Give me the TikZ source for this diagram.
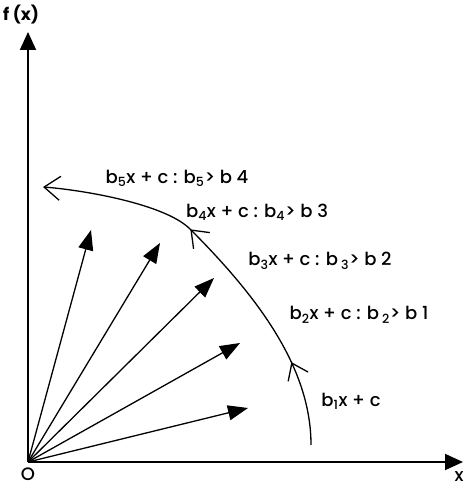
\documentclass[tikz,border=0pt]{standalone}
\usepackage{fontspec}
\setmainfont{Poppins}
\newfontfamily\labfont{Poppins Medium}
\usetikzlibrary{arrows.meta,decorations.markings}
\begin{document}
\begin{tikzpicture}[x=1pt,y=1pt,
  axis/.style={line width=1.9pt,-{Triangle[length=18pt,width=16pt]}},
  vec/.style={line width=1.3pt,-{Triangle[length=20pt,width=15pt]}},
  curve/.style={line width=1.3pt,-{Straight Barb[length=16pt,width=24pt]},
    postaction={decorate},
    decoration={markings,
      mark=at position 0.21 with {\arrow{Straight Barb[length=15pt,width=22pt]}},
      mark=at position 0.62 with {\arrow{Straight Barb[length=15pt,width=23pt]}}}},
  lab/.style={font=\labfont\fontsize{18}{21}\selectfont, inner sep=0pt}]
\useasboundingbox (0,0) rectangle (463,489);
\coordinate (o) at (28,27);
\coordinate (ytip) at (28,457);
\coordinate (xtip) at (463,27);
\coordinate (t1) at (248,81);
\coordinate (t2) at (240,146);
\coordinate (t3) at (214,211);
\coordinate (t4) at (160,246);
\coordinate (t5) at (91,259);
\coordinate (cs) at (311,44);
\coordinate (cm) at (190,260);
\coordinate (ce) at (43,302);
% axes
\draw[axis] (o) -- (ytip);
\draw[axis] (o) -- (xtip);
% vectors
\foreach \t in {t1,t2,t3,t4,t5} \draw[vec] (o) -- (\t);
% arc
\draw[curve] (cs) .. controls (311,120) and (260,190) .. (cm)
                  .. controls (165,285) and (83,299) .. (ce);
% labels
\node[lab,font=\bfseries\fontsize{17}{20}\selectfont] (fx) at (21,474) {f (x)};
\node[lab] (olab) at (28,15) {O};
\node[lab] (xlab) at (459,12) {x};
\node[lab] (l5) at (177,311) {b\textsubscript{5}x + c : b\textsubscript{5}> b 4};
\node[lab] (l4) at (257,277) {b\textsubscript{4}x + c : b\textsubscript{4}> b 3};
\node[lab] (l3) at (320,228) {b\textsubscript{3}x + c : b\,\textsubscript{3}> b 2};
\node[lab] (l2) at (359,174) {b\textsubscript{2}x + c : b\,\textsubscript{2}> b 1};
\node[lab] (l1) at (351,88) {b\textsubscript{1}x + c};
\end{tikzpicture}
\end{document}
